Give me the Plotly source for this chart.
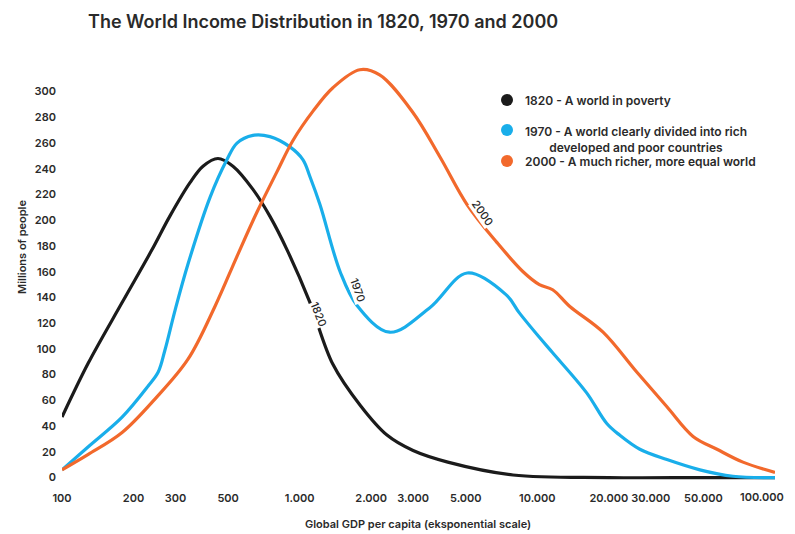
import math
import plotly.graph_objects as go

# GDP per capita (log scale) and millions of people
gdp_1820 = [100, 129, 179, 239, 284, 345, 392, 453, 524, 636, 750, 885, 1100, 1380,
            1800, 2330, 3000, 4200, 7900, 20000, 50000, 100000]
pop_1820 = [47, 89, 136, 177, 203, 229, 242, 248, 242, 224, 203, 177, 137, 88,
            56, 33, 21, 12, 2, 0, 0, 0]

gdp_1970 = [100, 129, 179, 230, 254, 271, 299, 339, 420, 494, 545, 636, 750, 910,
            1033, 1104, 1218, 1480, 1740, 2390, 3530, 5070, 7400, 8400, 10200, 11600,
            16100, 19600, 22200, 27000, 35100, 48300, 66500, 100000]
pop_1970 = [6, 24, 47, 71, 82, 99, 130, 166, 218, 247, 260, 266, 265, 257,
            247, 234, 212, 160, 134, 113, 132, 159, 142, 128, 109, 97,
            66, 42, 33, 22, 14, 6, 1, 0]

gdp_2000 = [100, 129, 179, 246, 339, 440, 545, 660, 804, 937, 1140, 1380, 1790, 2170,
            2990, 3900, 5070, 6740, 8710, 10200, 11600, 13700, 18900, 26200, 35100,
            45200, 57000, 73300, 100000]
pop_2000 = [6, 18, 35, 61, 92, 133, 172, 206, 238, 262, 285, 303, 317, 313,
            284, 249, 212, 183, 160, 150, 146, 133, 113, 82, 55,
            32, 22, 12, 4]

tick_vals = [100, 200, 300, 500, 1000, 2000, 3000, 5000, 10000, 20000, 30000, 50000, 100000]
tick_text = ["100", "200", "300", "500", "1.000", "2.000", "3.000", "5.000",
             "10.000", "20.000", "30.000", "50.000", "100.000"]
y_ticks = list(range(0, 301, 20))

series = [
    ("1820", gdp_1820, pop_1820, "#1b1b1b", "1820 - A world in poverty"),
    ("1970", gdp_1970, pop_1970, "#19aeea",
     "1970 - A world clearly divided into rich<br>        developed and poor countries"),
    ("2000", gdp_2000, pop_2000, "#f2692c", "2000 - A much richer, more equal world"),
]
# curve labels: (text, gdp, value, angle)
curve_labels = [("1820", 1200, 127, 68), ("1970", 1760, 146, 70), ("2000", 5900, 206, 55)]

FONT = "Inter"
TXT = "#2a2a2a"
TICKFONT = dict(family=FONT, size=11, color=TXT, weight=600)

fig = go.Figure()
for name, xs, ys, color, _ in series:
    fig.add_trace(go.Scatter(
        x=xs, y=ys, mode="lines", name=name,
        line=dict(color=color, width=3.2, shape="spline", smoothing=1.0),
        showlegend=False, hoverinfo="skip",
    ))

for text, gx, gy, ang in curve_labels:
    fig.add_annotation(
        x=math.log10(gx), y=gy, xref="x", yref="y", text=text, showarrow=False,
        textangle=ang, font=dict(family=FONT, size=11, color=TXT, weight=500),
        bgcolor="white", borderpad=0,
    )

# hand-made legend on the right (paper coords derived from screen pixels)
for i, (_, _, _, color, label) in enumerate(series):
    py = [100, 130, 161][i]
    fig.add_shape(type="circle", xref="paper", yref="paper",
                  x0=(501 - 62) / 713, x1=(513 - 62) / 713,
                  y0=(484 - py - 6) / 431, y1=(484 - py + 6) / 431,
                  fillcolor=color, line=dict(width=0))
    fig.add_annotation(
        x=(523 - 62) / 713, y=(484 - py) / 431, xref="paper", yref="paper",
        text=label, showarrow=False, xanchor="left",
        yanchor="top" if i == 1 else "middle",
        yshift=8 if i == 1 else 0, align="left",
        font=dict(family=FONT, size=12, color=TXT, weight=600),
    )

fig.add_annotation(
    x=(22 - 62) / 713, y=(484 - 247) / 431, xref="paper", yref="paper",
    xanchor="center", yanchor="middle",
    text="Millions of people", showarrow=False, textangle=-90,
    font=dict(family=FONT, size=11, color=TXT, weight=600),
)
fig.add_annotation(
    x=(418 - 62) / 713, y=(484 - 524) / 431, xref="paper", yref="paper",
    text="Global GDP per capita (eksponential scale)", showarrow=False,
    xanchor="center", yanchor="middle",
    font=dict(family=FONT, size=11, color=TXT, weight=600),
)
# last tick label is pulled in so it is not cut at the page edge
fig.add_annotation(
    x=(778 - 54) / 713, y=(484 - 497) / 431, xref="paper", yref="paper",
    text=tick_text[-1], showarrow=False, xanchor="right", yanchor="middle",
    font=TICKFONT,
)

fig.update_xaxes(
    type="log", range=[2, 5], tickvals=tick_vals,
    ticktext=tick_text[:-1] + [""],
    showgrid=False, zeroline=False, showline=False, ticks="", automargin=False,
    ticklabelstandoff=6, tickfont=TICKFONT,
)
fig.update_yaxes(
    range=[-5, 330], tickvals=y_ticks, showgrid=False, zeroline=False,
    showline=False, ticks="", automargin=False, ticklabelstandoff=5,
    tickfont=TICKFONT,
)
# page body has an 8px margin, so the figure is drawn 8px smaller and shifted
fig.update_layout(
    width=787, height=526,
    margin=dict(l=54, r=20, t=45, b=50),
    paper_bgcolor="white", plot_bgcolor="white",
    title=dict(text="The World Income Distribution in 1820, 1970 and 2000",
               x=80 / 787, xanchor="left", y=1 - 14 / 526, yanchor="middle",
               font=dict(family=FONT, size=18, color="#2a2a2a", weight=600)),
)

fig.write_html("out.html")
